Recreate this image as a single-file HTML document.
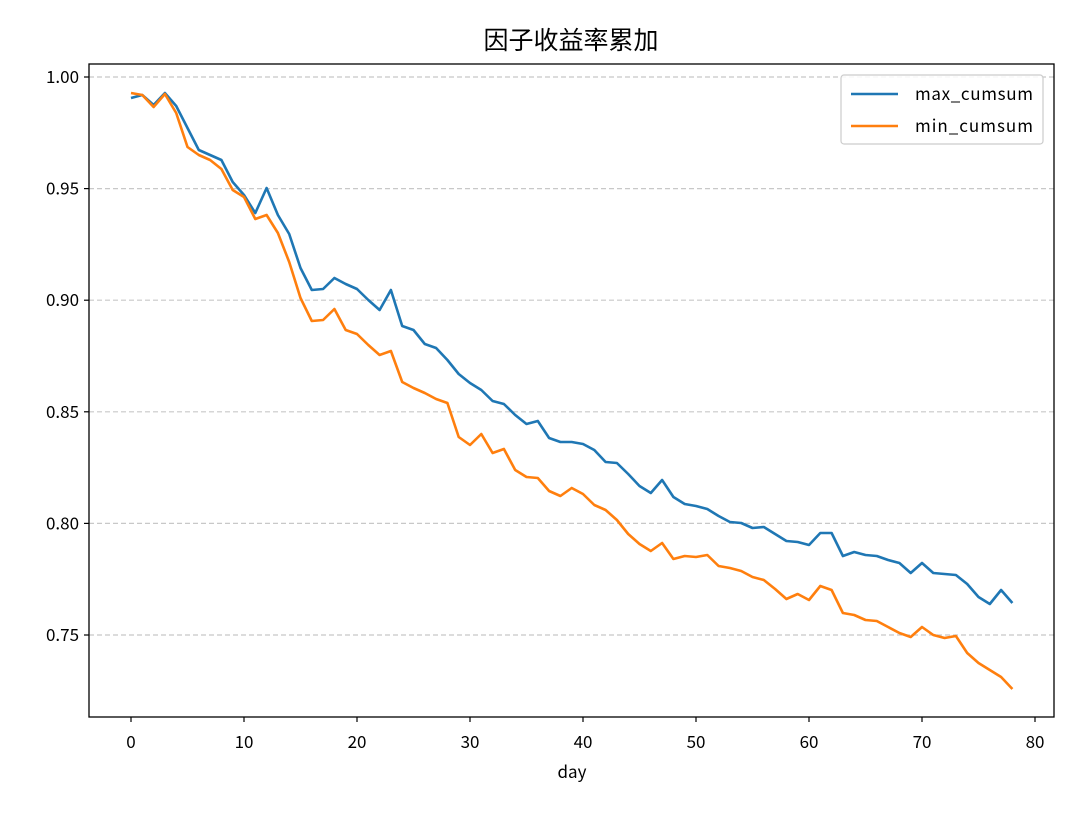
<!DOCTYPE html>
<html><head><meta charset="utf-8"><style>
body{margin:0;background:#fff;}
svg text{font-family:"WenQuanYi Zen Hei","Noto Sans CJK SC",sans-serif;fill:#000;}
</style></head><body>
<svg id="s" width="1080" height="810" xmlns="http://www.w3.org/2000/svg">
<rect width="1080" height="810" fill="#fff"/>
<text x="571" y="49" text-anchor="middle" font-size="25">因子收益率累加</text>
<g id="grid" stroke="#c8c8c8" stroke-width="1.2" stroke-dasharray="5,3"></g>
<g id="lines" fill="none" stroke-width="2.6" stroke-linejoin="round"></g>
<rect x="89" y="64" width="965" height="653" fill="none" stroke="#000" stroke-width="1.3"/>
<g id="ticks" font-size="17"></g>
<text x="572" y="778" text-anchor="middle" font-size="17">day</text>
<rect x="841" y="75" width="202" height="69" rx="3" fill="#fff" fill-opacity="0.85" stroke="#ccc" stroke-width="1.2"/>
<line x1="851" y1="94" x2="898" y2="94" stroke="#1f77b4" stroke-width="2.6"/>
<line x1="851" y1="126" x2="898" y2="126" stroke="#ff7f0e" stroke-width="2.6"/>
<text x="915" y="100" font-size="17" textLength="118">max_cumsum</text>
<text x="915" y="132" font-size="17" textLength="118">min_cumsum</text>
</svg>
<script>
var NS="http://www.w3.org/2000/svg";
function el(t,a,p,txt){var e=document.createElementNS(NS,t);for(var k in a)e.setAttribute(k,a[k]);if(txt!==undefined)e.textContent=txt;document.getElementById(p).appendChild(e);}
var yv=[1.00,0.95,0.90,0.85,0.80,0.75];
yv.forEach(function(v,i){var y=77+(1-v)/0.05*111.6;
el('line',{x1:89,x2:1054,y1:y,y2:y},'grid');
el('line',{x1:84,x2:89,y1:y,y2:y,stroke:'#000','stroke-width':1.2},'ticks');
el('text',{x:79,y:y+6,'text-anchor':'end'},'ticks',v.toFixed(2));});
for(var d=0;d<=80;d+=10){var x=131+11.3*d;
el('line',{x1:x,x2:x,y1:717,y2:722,stroke:'#000','stroke-width':1.2},'ticks');
el('text',{x:x,y:748,'text-anchor':'middle'},'ticks',String(d));}
var b=[98,95,105,93,106,128,150,155,160,182,195,213,188,215,234,268,290,289,278,284,289,300,310,290,326,330,344,348,360,374,383,390,401,404,415,424,421,438,442,442,444,450,462,463,474,486,493,480,497,504,506,509,516,522,523,528,527,534,541,542,545,533,533,556,552,555,556,560,563,573,563,573,574,575,584,597,604,590,603];
var o=[93,95,107,94,113,147,155,160,169,190,197,219,215,233,262,298,321,320,309,330,334,345,355,351,382,388,393,399,403,437,445,434,453,449,470,477,478,491,496,488,494,505,510,520,534,544,551,543,559,556,557,555,566,568,571,577,580,589,599,594,600,586,590,613,615,620,621,627,633,637,627,635,638,636,653,663,670,677,689];
function pts(a){return a.map(function(y,i){return (131+11.3*i).toFixed(1)+','+y;}).join(' ');}
el('polyline',{points:pts(b),stroke:'#1f77b4'},'lines');
el('polyline',{points:pts(o),stroke:'#ff7f0e'},'lines');
</script>
</body></html>
